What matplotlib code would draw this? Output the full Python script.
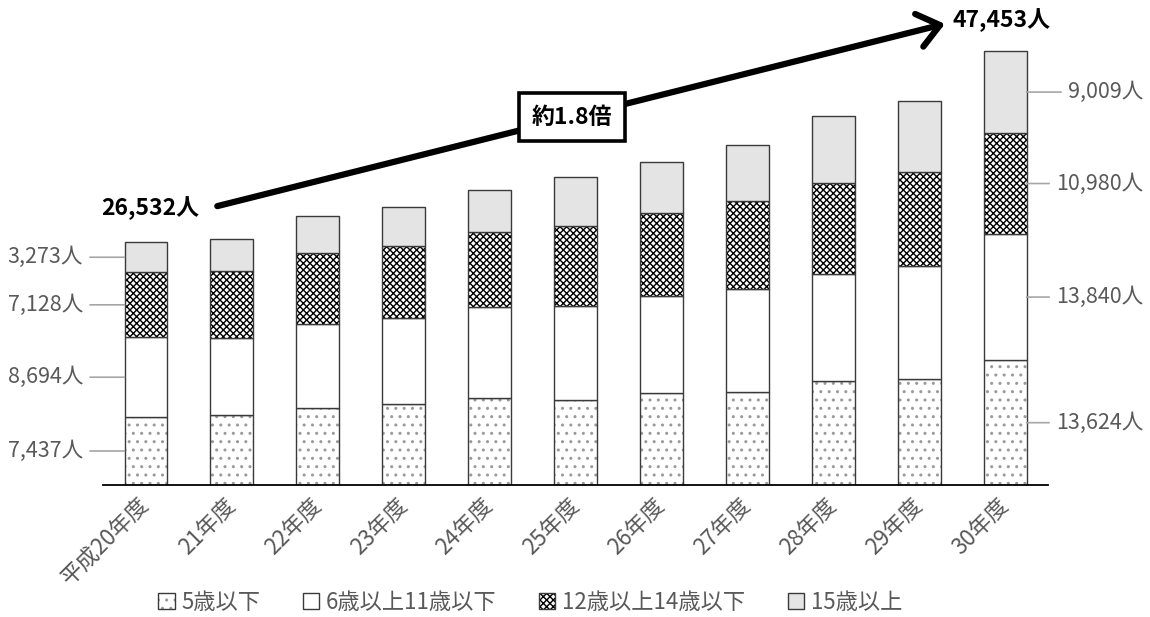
import numpy as np
import matplotlib
matplotlib.use("Agg")
import matplotlib.pyplot as plt

plt.rcParams['font.family'] = ['Noto Sans CJK JP', 'DejaVu Sans']
plt.rcParams['hatch.linewidth'] = 1.0

# 年度別・年齢別の人数
years = ['平成20年度', '21年度', '22年度', '23年度', '24年度', '25年度',
         '26年度', '27年度', '28年度', '29年度', '30年度']
age_groups = ['5歳以下', '6歳以上11歳以下', '12歳以上14歳以下', '15歳以上']
under5 = [7437, 7620, 8450, 8820, 9510, 9290, 10020, 10130, 11370, 11590, 13624]
age6_11 = [8694, 8450, 9180, 9400, 10000, 10240, 10600, 11290, 11700, 12350, 13840]
age12_14 = [7128, 7320, 7700, 7870, 8140, 8810, 9070, 9590, 9980, 10270, 10980]
over15 = [3273, 3530, 4080, 4330, 4570, 5290, 5570, 6130, 7320, 7790, 9009]
ratio_text = '約1.8倍'

series = [under5, age6_11, age12_14, over15]
faces = ['white', 'white', 'white', '#e4e4e4']
hatches = ['..', None, 'xxxxx', None]
hatch_cols = ['#9a9a9a', 'white', 'black', '#e4e4e4']
gray_txt = '#595959'
gray_line = '#a6a6a6'

fig = plt.figure(figsize=(11.5, 6.17), dpi=100)
ax = fig.add_axes([0.0896, 0.2139, 0.8217, 0.7711])

x = np.arange(len(years))
w = 0.5
bottom = np.zeros(len(years))
handles = []
for vals, fc, h, hc in zip(series, faces, hatches, hatch_cols):
    vals = np.array(vals, dtype=float)
    b1 = ax.bar(x, vals, w, bottom=bottom, color=fc, edgecolor=hc, hatch=h, lw=0)
    b2 = ax.bar(x, vals, w, bottom=bottom, fill=False, edgecolor='#3a3a3a', lw=1.0)
    handles.append((b1[0], b2[0]))
    bottom += vals
totals = bottom

ax.set_xlim(-0.5, 10.5)
ax.set_ylim(0, 52000)
for s in ['top', 'left', 'right']:
    ax.spines[s].set_visible(False)
ax.spines['bottom'].set_linewidth(1.3)
ax.spines['bottom'].set_color('black')
ax.set_yticks([])
ax.set_xticks(x)
ax.set_xticklabels(years, rotation=45, ha='right', va='center',
                   rotation_mode='anchor', color=gray_txt, fontsize=16)
ax.tick_params(axis='x', length=0, pad=12)

# 初年度と最終年度の内訳ラベル
def seg_mids(i):
    v = np.array([s[i] for s in series], dtype=float)
    return np.cumsum(v) - v / 2, v

mids, vals = seg_mids(0)
for m, v in zip(mids, vals):
    ax.annotate(f'{int(v):,}人', xy=(-w / 2, m), xytext=(-0.733, m),
                ha='right', va='center', fontsize=15.5, color=gray_txt,
                annotation_clip=False,
                arrowprops=dict(arrowstyle='-', color=gray_line, lw=1.2,
                                relpos=(1, 0.5), shrinkA=3, shrinkB=0))

mids, vals = seg_mids(len(years) - 1)
for m, v in zip(mids, vals):
    ax.annotate(f'{int(v):,}人', xy=(10 + w / 2, m), xytext=(11.61, m),
                ha='right', va='center', fontsize=15.5, color=gray_txt,
                annotation_clip=False,
                arrowprops=dict(arrowstyle='-', color=gray_line, lw=1.2,
                                relpos=(0, 0.5), shrinkA=3, shrinkB=0))

# 合計と増加の矢印
ax.text(0.05, totals[0] + 3750, f'{int(totals[0]):,}人', ha='center', va='center',
        fontsize=16.5, fontweight='bold', color='black')
ax.text(9.96, totals[-1] + 3400, f'{int(totals[-1]):,}人', ha='center', va='center',
        fontsize=16.5, fontweight='bold', color='black', clip_on=False)
ax.annotate('', xy=(9.3, totals[-1] + 2950), xytext=(0.83, totals[0] + 3950),
            annotation_clip=False,
            arrowprops=dict(arrowstyle='->,head_length=0.7,head_width=0.55',
                            mutation_scale=22, lw=4.5, color='black',
                            shrinkA=0, shrinkB=0))
ax.text(4.96, 40200, ratio_text, ha='center', va='center', fontsize=16.5,
        fontweight='bold', color='black', zorder=5,
        bbox=dict(boxstyle='square,pad=0.55', fc='white', ec='black', lw=2.6))

leg = fig.legend(handles, age_groups, loc='center', bbox_to_anchor=(0.461, 0.024),
                 ncol=4, frameon=False, fontsize=16, handlelength=0.75,
                 handleheight=0.75, handletextpad=0.3, columnspacing=1.9)
for t in leg.get_texts():
    t.set_color(gray_txt)

fig.savefig('out.png', dpi=100)
